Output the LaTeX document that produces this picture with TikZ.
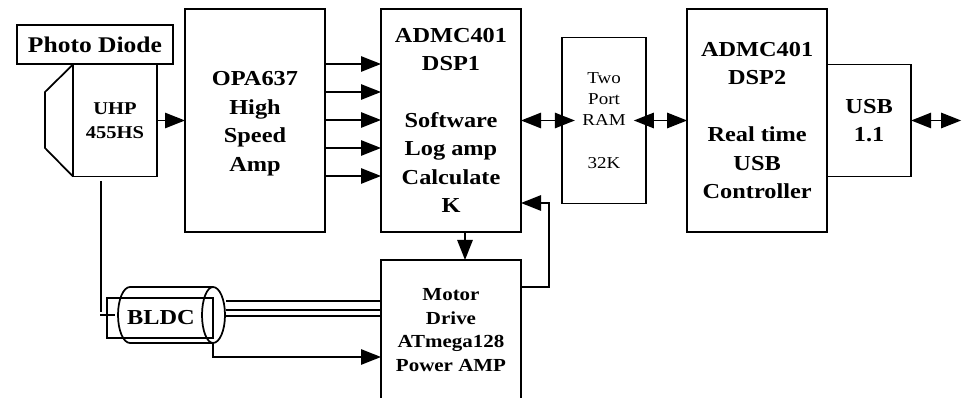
\documentclass[tikz,border=0pt]{standalone}
\usepackage{fontspec}
\setmainfont[FakeStretch=1.14]{Liberation Serif}
\usetikzlibrary{positioning, arrows.meta}

\begin{document}
\begin{tikzpicture}[
    x=0.75pt, y=-0.75pt,
    block/.style={rectangle, draw, line width=1.3pt, fill=white, outer sep=0pt, inner sep=0pt, align=center},
    bigtext/.style={font=\fontsize{16}{21.3}\selectfont\bfseries},
    phototext/.style={font=\fontsize{16.8}{21.3}\selectfont\bfseries},
    midtext/.style={font=\fontsize{13.5}{18}\selectfont\bfseries},
    smalltext/.style={font=\fontsize{13.8}{17.7}\selectfont\bfseries},
    ramtext/.style={font=\fontsize{12.5}{15.8}\selectfont},
    tipped/.style={line width=1.3pt, -{Triangle[length=15pt, width=11.5pt]}},
    twoway/.style={line width=1.3pt, {Triangle[length=15pt, width=11.5pt]}-{Triangle[length=15pt, width=11.5pt]}},
    wire/.style={line width=1.3pt}
]
\useasboundingbox (0,0) rectangle (963,398);

% Main chain
\node[block, bigtext, minimum width=105pt, minimum height=167.25pt] at (255,120.5) (opa) {\rule{0pt}{15.5pt}OPA637\\High\\Speed\\Amp};
\node[block, bigtext, minimum width=105pt, minimum height=167.25pt, right=42pt of opa] (dsp1) {ADMC401\\DSP1\\[21.3pt]Software\\Log amp\\Calculate\\K};
\node[block, ramtext, minimum width=62.6pt, minimum height=124.5pt, right=31pt of dsp1] (ram) {Two\\Port\\RAM\\[15.8pt]32K};
\node[block, bigtext, minimum width=105pt, minimum height=167.25pt, right=31pt of ram] (dsp2) {ADMC401\\DSP2\\[21.3pt]Real time\\USB\\Controller};
\node[block, bigtext, minimum width=63pt, minimum height=84pt, right=0pt of dsp2] (usb) {USB\\1.1};
\coordinate[right=37.5pt of usb] (usb_out);

% Sensor
\node[block, midtext, minimum width=63pt, minimum height=84pt, left=21pt of opa] (uhp) {UHP\\455HS};
\node[block, phototext, minimum width=117pt, minimum height=29.25pt, anchor=south west] at (17,64) (photo) {Photo Diode};
\coordinate (lens_top) at (45,92);
\coordinate (lens_bot) at (45,148);
\draw[wire] (uhp.north west) -- (lens_top) -- (lens_bot) -- (uhp.south west);

% Motor drive and motor
\node[block, smalltext, minimum width=105pt, minimum height=105pt, below=21pt of dsp1] (drive) {Motor\\Drive\\ATmega128\\Power AMP};
\node[block, minimum width=79.5pt, minimum height=30pt, anchor=north west] at (107,298) (rotor) {};
\coordinate (can_nw) at (130,287);
\coordinate (can_ne) at (213,287);
\coordinate (can_sw) at (130,343);
\coordinate (can_se) at (213,343);
\coordinate (can_e) at (226,315);
\draw[wire] (can_sw) arc[start angle=90, end angle=270, x radius=12, y radius=28] -- (can_ne);
\draw[wire] (can_sw) -- (can_se);
\draw[wire] (can_ne) arc[start angle=270, end angle=450, x radius=12, y radius=28];
\draw[wire] (can_ne) arc[start angle=270, end angle=90, x radius=11, y radius=28];
\node[bigtext, inner sep=0pt] at (161,318) (bldc) {BLDC};

% Signal arrows
\foreach \y in {64,92,120,148,176}
    \draw[tipped] (opa.east |- 0,\y) -- (dsp1.west |- 0,\y);
\draw[tipped] (uhp.east) -- (opa.west);
\draw[twoway] (dsp1.east) -- ([xshift=9.4pt]ram.west);
\draw[twoway] ([xshift=-9pt]ram.east) -- (dsp2.west);
\draw[twoway] (usb.east) -- (usb_out);
\draw[tipped] (dsp1.south -| 465,0) -- (drive.north -| 465,0);
\coordinate (back_r) at (549,245);
\draw[tipped] (drive.east |- 0,287) -| (back_r |- 0,203) -- (dsp1.east |- 0,203);

% Motor wiring
\coordinate (sense_top) at (101,181);
\coordinate (sense_bot) at (101,312);
\coordinate (stub_l) at (100,315);
\coordinate (stub_r) at (115,315);
\draw[wire] (sense_top) -- (sense_bot);
\draw[wire] (stub_l) -- (stub_r);
\foreach \y in {301,310,316}
    \draw[wire] (can_e |- 0,\y) -- (drive.west |- 0,\y);
\draw[tipped] (can_se) -- (can_se |- 0,357) -- (drive.west |- 0,357);

\end{tikzpicture}
\end{document}
